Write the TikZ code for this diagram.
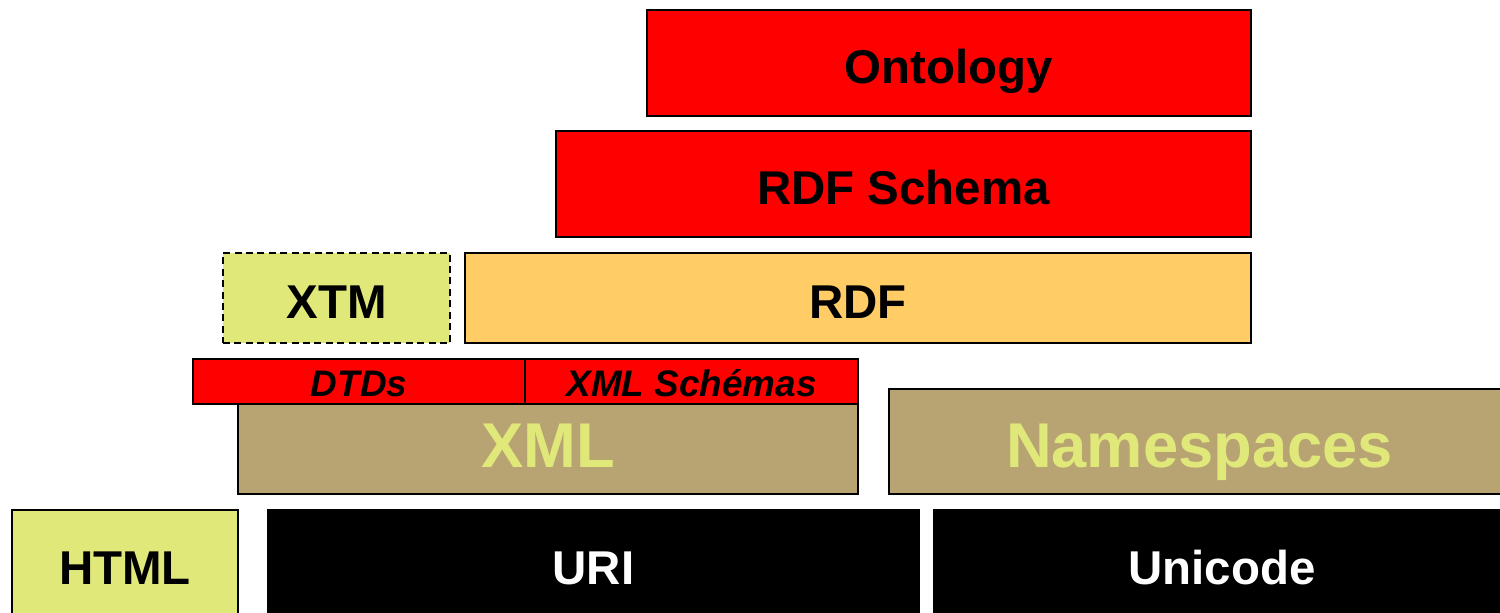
\documentclass[tikz,border=0pt]{standalone}
\usepackage{fontspec}
\setmainfont{Liberation Sans}
\definecolor{layerred}{HTML}{FF0000}
\definecolor{rdforange}{HTML}{FFCC66}
\definecolor{xmlkhaki}{HTML}{B8A473}
\definecolor{paleyellow}{HTML}{E1E87A}
\begin{document}
\begin{tikzpicture}[line width=1pt,
  every node/.style={draw=black, inner sep=0pt, font=\bfseries, text depth=0pt},
  layer/.style={rectangle, minimum width=#1},
  big/.style={font=\fontsize{27}{29}\selectfont\bfseries, text height=23.4pt},
  huge/.style={font=\fontsize{36}{38}\selectfont\bfseries, text height=25.8pt, text=paleyellow, fill=xmlkhaki},
  small/.style={font=\fontsize{21}{23}\selectfont\bfseries\itshape, text height=16.6pt, fill=layerred, minimum height=0.9cm}]
\useasboundingbox (0,0) rectangle (30,-12.24);
% top layers
\node [layer=12.08cm, minimum height=2.12cm, fill=layerred, big] (onto) at (18.98,-1.26) {Ontology};
\node [layer=13.9cm, minimum height=2.12cm, fill=layerred, big] (rdfs) at (18.07,-3.68) {RDF Schema};
\node [layer=4.54cm, minimum height=1.8cm, fill=paleyellow, dash pattern=on 4pt off 2.5pt, big] (xtm) at (6.73,-5.96) {XTM};
\node [layer=15.72cm, minimum height=1.8cm, fill=rdforange, big] (rdf) at (17.16,-5.96) {RDF};
% xml layer
\node [layer=6.64cm, small] (dtd) at (7.18,-7.63) {DTDs};
\node [layer=6.66cm, small] (xsd) at (13.83,-7.63) {XML Schémas};
\node [layer=12.4cm, minimum height=1.8cm, huge, text depth=4.6pt] (xml) at (10.96,-8.98) {XML};
\node [layer=12.42cm, minimum height=2.1cm, huge, text height=29.8pt] (ns) at (23.99,-8.83) {Namespaces};
% bottom
\node [layer=4.52cm, minimum height=2.3cm, fill=paleyellow, big, text height=19.4pt] (html) at (2.5,-11.35) {HTML};
\node [layer=13.02cm, minimum height=2.3cm, fill=black, text=white, big, text height=19.4pt] (uri) at (11.87,-11.35) {URI};
\node [layer=11.52cm, minimum height=2.3cm, fill=black, text=white, big, text height=19.4pt] (uni) at (24.44,-11.35) {Unicode};
\end{tikzpicture}
\end{document}
